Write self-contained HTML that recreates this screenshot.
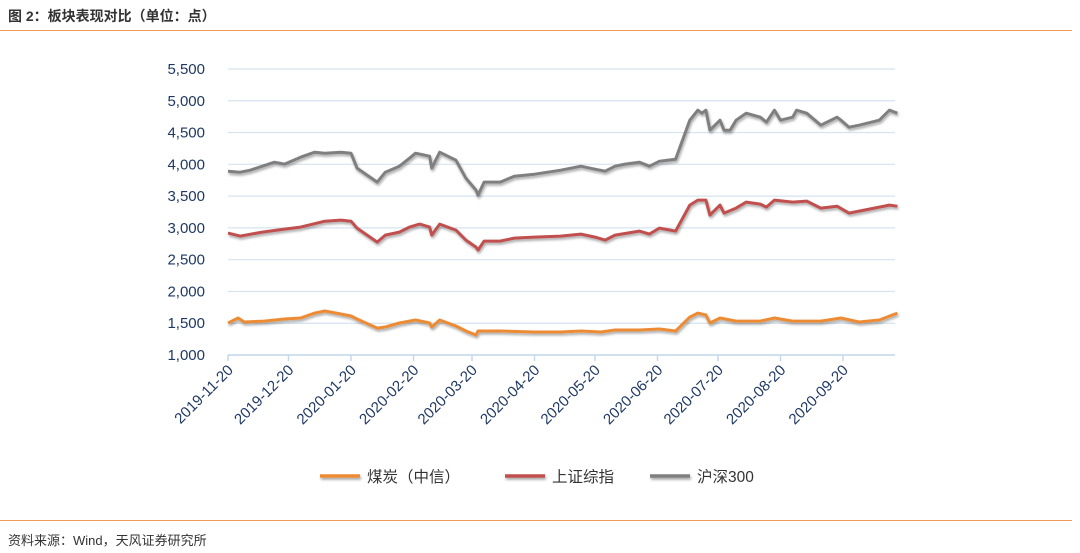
<!DOCTYPE html>
<html><head><meta charset="utf-8"><style>
body{margin:0;background:#fff;font-family:"Liberation Sans","Noto Sans CJK SC",sans-serif;}
#wrap{position:relative;width:1080px;height:553px;overflow:hidden;}
</style></head><body>
<div id="wrap">
<div style="position:absolute;left:8px;top:6px;font-size:14px;font-weight:bold;color:#333;">图 2：板块表现对比（单位：点）</div>
<div style="position:absolute;left:0;top:30px;width:1072px;height:1px;background:#ef9a55;"></div>
<div style="position:absolute;left:0;top:520px;width:1072px;height:1px;background:#ef9a55;"></div>
<div style="position:absolute;left:8px;top:530px;font-size:13px;color:#333;">资料来源：Wind，天风证券研究所</div>
<svg id="chart" width="1080" height="553" style="position:absolute;left:0;top:0">
<defs><filter id="sh" filterUnits="userSpaceOnUse" x="0" y="0" width="1080" height="553"><feDropShadow dx="1" dy="2" stdDeviation="1.2" flood-color="#000" flood-opacity="0.35"/></filter></defs>
</svg>
</div>
<script>
const yTicks=[1000,1500,2000,2500,3000,3500,4000,4500,5000,5500];
const xTickLabels=["2019-11-20","2019-12-20","2020-01-20","2020-02-20","2020-03-20","2020-04-20","2020-05-20","2020-06-20","2020-07-20","2020-08-20","2020-09-20"];
const xTickDays=[0,30,61,92,121,152,182,213,243,274,305];
const hsDays=[0,6,11,17,23,28,36,43,48,56,61,64,74,78,85,90,93,100,101,105,113,118,123,124,127,135,142,152,165,175,182,187,192,197,204,209,214,222,229,233,235,237,239,244,246,249,252,257,264,267,271,274,280,282,287,294,302,304,308,313,323,328,332];
const hsVals=[3890,3877,3908,3971,4034,4003,4112,4191,4175,4191,4175,3940,3720,3877,3971,4097,4175,4128,3940,4191,4065,3782,3594,3515,3720,3720,3814,3845,3908,3971,3924,3892,3971,4003,4034,3971,4050,4081,4694,4851,4804,4851,4537,4694,4537,4537,4694,4804,4741,4663,4851,4694,4741,4851,4804,4616,4741,4694,4584,4616,4694,4851,4804];
const shDays=[0,6,17,28,36,48,56,61,64,74,78,85,90,95,100,101,105,113,118,123,124,127,135,142,152,165,175,182,187,192,204,209,214,222,229,233,237,239,244,246,252,257,264,267,271,280,287,294,302,308,323,328,332];
const shVals=[2918,2871,2934,2981,3012,3106,3122,3106,2996,2776,2886,2934,3012,3059,3012,2886,3059,2965,2808,2698,2651,2792,2792,2839,2855,2871,2902,2855,2808,2886,2949,2902,2996,2949,3358,3437,3437,3201,3358,3232,3311,3405,3374,3327,3437,3405,3421,3311,3342,3232,3327,3358,3342];
const mtDays=[0,5,8,18,28,36,43,48,56,61,64,74,78,85,93,100,101,105,113,118,123,124,135,152,165,175,185,192,204,214,222,229,233,237,239,244,252,264,271,280,294,304,313,323,332];
const mtVals=[1503,1582,1519,1534,1566,1582,1660,1692,1645,1613,1566,1424,1440,1503,1550,1503,1440,1550,1456,1377,1314,1377,1377,1362,1362,1377,1362,1393,1393,1409,1377,1597,1660,1629,1503,1582,1534,1534,1582,1534,1534,1582,1519,1550,1660];
const svg=document.getElementById('chart');const NS='http://www.w3.org/2000/svg';
const X0=228,X1=843,Y0=355,Y1=69;
const xs=d=>X0+(d/305)*(X1-X0);
const ys=v=>Y0-(v-1000)/4500*(Y0-Y1);
function mk(t,a){const e=document.createElementNS(NS,t);for(const k in a)e.setAttribute(k,a[k]);svg.appendChild(e);return e;}
yTicks.forEach(v=>{
 const g=mk('line',{x1:228,x2:895,y1:ys(v),y2:ys(v),stroke:'#d5e3ef','stroke-width':1.2});
 
 
 const t=mk('text',{x:205,y:ys(v)+5,'text-anchor':'end','font-size':15,fill:'#1f3864','font-family':'Liberation Sans, sans-serif'});
 t.textContent=v.toLocaleString('en-US');
 
 
});
const ax=mk('line',{x1:228,x2:895,y1:355,y2:355,stroke:'#c5d8ea','stroke-width':1.5});


xTickLabels.forEach((s,i)=>{
 const x=xs(xTickDays[i]);
 const tk=mk('line',{x1:x,x2:x,y1:355,y2:361,stroke:'#c5d8ea','stroke-width':1.5});
 
 
 const t=mk('text',{x:x+6,y:371,'text-anchor':'end','font-size':15,fill:'#1f3864','font-family':'Liberation Sans, sans-serif',transform:`rotate(-45 ${x+6} 371)`});
 t.textContent=s;
 
 
});
function series(days,vals,color,name){
 const p=mk('polyline',{points:days.map((d,i)=>xs(d).toFixed(1)+','+ys(vals[i]).toFixed(1)).join(' '),fill:'none',stroke:color,'stroke-width':3,'stroke-linejoin':'round',filter:'url(#sh)'});
 
 
}
series(hsDays,hsVals,'#7f7f7f','series-hs300');
series(shDays,shVals,'#c0504d','series-sse-composite');
series(mtDays,mtVals,'#ed8b35','series-coal');
const legend=[['#ed8b35','煤炭（中信）',320],['#c0504d','上证综指',505],['#7f7f7f','沪深300',650]];
legend.forEach(([c,l,x])=>{
 const ln=mk('line',{x1:x,x2:x+40,y1:476,y2:476,stroke:c,'stroke-width':3.5,filter:'url(#sh)'});
 
 
 const t=mk('text',{x:x+47,y:482,'font-size':15.5,fill:'#333','font-family':'Liberation Sans, Noto Sans CJK SC, sans-serif'});
 t.textContent=l;
 
 
});
</script>
</body></html>
